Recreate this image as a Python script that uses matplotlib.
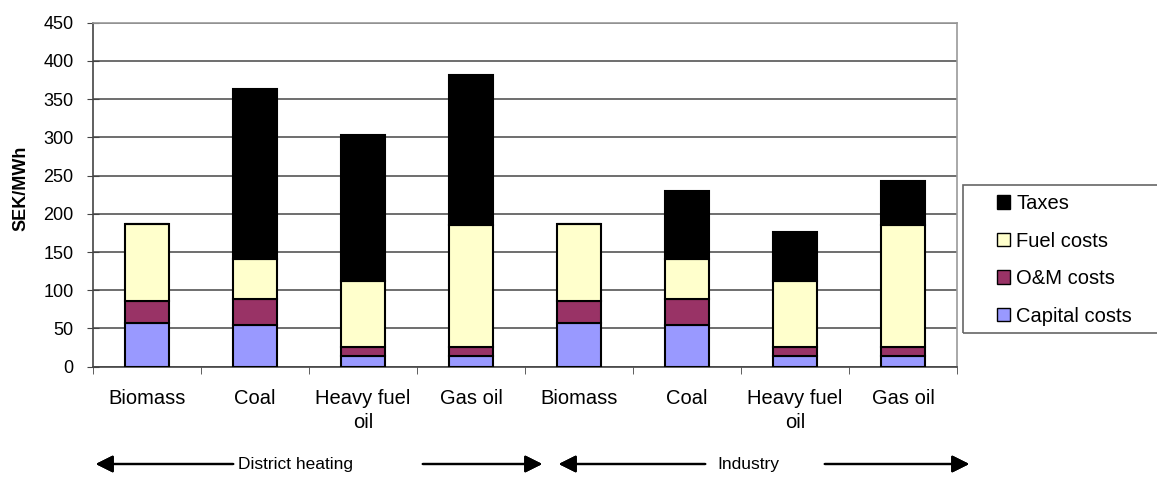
import matplotlib
matplotlib.use("Agg")

import numpy as np
import matplotlib.pyplot as plt
from matplotlib.patches import Patch, Rectangle

plt.rcParams["font.family"] = ["Liberation Sans", "DejaVu Sans"]

# Data (SEK/MWh)
categories = ["Biomass", "Coal", "Heavy fuel\noil", "Gas oil",
              "Biomass", "Coal", "Heavy fuel\noil", "Gas oil"]
capital = [57, 54, 14, 14, 57, 54, 14, 14]
om = [29, 34, 12, 12, 29, 34, 12, 12]
fuel = [101, 53, 86, 160, 101, 53, 86, 160]
taxes = [0, 222, 191, 196, 0, 89, 64, 57]

series = [("Capital costs", capital, "#9999ff"),
          ("O&M costs", om, "#993366"),
          ("Fuel costs", fuel, "#ffffcc"),
          ("Taxes", taxes, "#000000")]

W, H = 1157, 504
fig = plt.figure(figsize=(W / 100, H / 100), dpi=100)
ax = fig.add_axes([93 / W, 1 - 366.7 / H, (957 - 93) / W, (366.7 - 22.7) / H])

x = np.arange(len(categories))
bottom = np.zeros(len(categories))
for name, vals, col in series:
    vals = np.array(vals, dtype=float)
    ax.bar(x, vals, width=0.41, bottom=bottom, color=col, edgecolor="black",
           linewidth=1.5, zorder=3)
    bottom += vals

ax.set_xlim(-0.5, len(categories) - 0.5)
ax.set_ylim(0, 450)
ax.set_yticks(np.arange(0, 451, 50))
ax.set_xticks(x)
ax.set_xticklabels(categories, fontsize=14.5, linespacing=1.35)
ax.set_xticks(np.arange(-0.5, len(categories), 1), minor=True)
ax.tick_params(axis="x", which="major", length=0, pad=16)
ax.tick_params(axis="x", which="minor", length=5, direction="out", color="#444444")
ax.tick_params(axis="y", labelsize=13, length=8, direction="inout", color="#444444", pad=10)
ax.yaxis.grid(True, color="#555555", linewidth=1.2, zorder=0)
ax.set_axisbelow(True)

fig.text(21 / W, 1 - 188 / H, "SEK/MWh", fontsize=13, fontweight="bold",
         rotation=90, ha="center", va="center")

for s in ["left", "bottom"]:
    ax.spines[s].set_color("#444444")
    ax.spines[s].set_linewidth(1.2)
for s in ["top", "right"]:
    ax.spines[s].set_color("#999999")
    ax.spines[s].set_linewidth(1.2)

# Legend: frame drawn separately, it runs off the right edge
fig.add_artist(Rectangle((963 / W, 1 - 333 / H), 220 / W, 148 / H,
                         transform=fig.transFigure, fill=False,
                         edgecolor="#666666", linewidth=1.2))
handles = [Patch(facecolor=c, edgecolor="black", label=n) for n, _, c in reversed(series)]
fig.legend(handles=handles, loc="upper left",
           bbox_to_anchor=(997 / W, 1 - 194 / H),
           fontsize=14.5, handlelength=0.65, handleheight=0.65, handletextpad=0.3,
           labelspacing=0.92, borderpad=0, frameon=False, borderaxespad=0)

# Group arrows below the axis
yarr = 1 - 464 / H
arrow = dict(arrowstyle="-|>", color="black", lw=1.6, mutation_scale=26)
fig.text(295 / W, yarr, "District heating", fontsize=12.5, ha="center", va="center")
fig.text(748 / W, yarr, "Industry", fontsize=12.5, ha="center", va="center")
for tip, tail in [(93, 236), (545, 420), (556, 708), (972, 822)]:
    fig.add_artist(plt.annotate("", xy=(tip / W, yarr), xytext=(tail / W, yarr),
                                xycoords="figure fraction", textcoords="figure fraction",
                                arrowprops=arrow))

fig.savefig("out.png", dpi=100)
